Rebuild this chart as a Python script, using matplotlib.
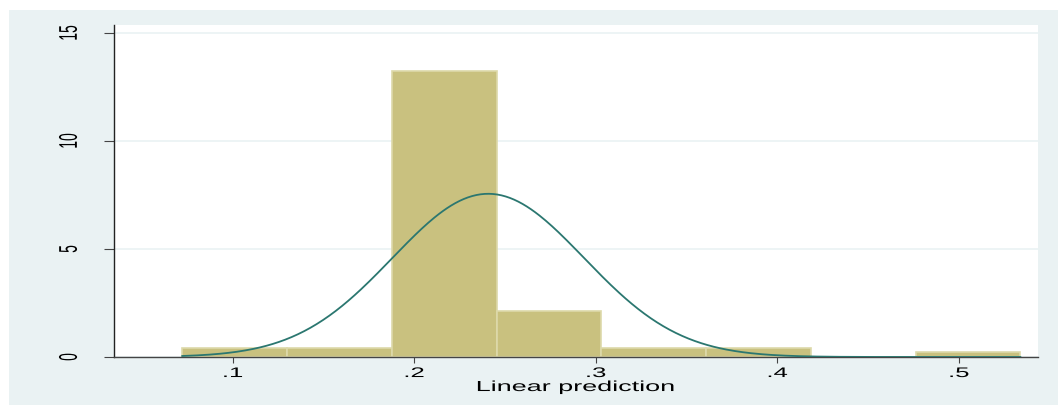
import numpy as np
import matplotlib
matplotlib.use('Agg')
import matplotlib.pyplot as plt
from matplotlib.patches import Rectangle
from matplotlib.patheffects import AbstractPathEffect
from matplotlib.transforms import Affine2D

# histogram data (density scale)
bin_edges = [0.0722, 0.1299, 0.1876, 0.2453, 0.3030, 0.3607, 0.4184, 0.4761, 0.5338]
densities = [0.42, 0.42, 13.25, 2.12, 0.42, 0.42, 0.0, 0.21]

# normal overlay parameters
fit_mean = 0.2407
fit_sd = 0.0528

x_ticks = [0.1, 0.2, 0.3, 0.4, 0.5]
x_labels = ['.1', '.2', '.3', '.4', '.5']
y_ticks = [0, 5, 10, 15]
x_title = 'Linear prediction'

bg = '#EAF2F3'
bar_color = '#C9C17F'
bar_edge = '#DDD9AA'
line_color = '#2B7770'

# the source image was stretched sideways, so the glyphs are wide
text_stretch = 1.85


class HStretch(AbstractPathEffect):
    '''widen the glyphs horizontally about their own centre'''

    def __init__(self, sx):
        super().__init__()
        self.sx = sx

    def draw_path(self, renderer, gc, tpath, affine, rgbFace=None):
        ext = tpath.get_extents(affine)
        cx = 0.5 * (ext.x0 + ext.x1)
        st = Affine2D().translate(-cx, 0).scale(self.sx, 1).translate(cx, 0)
        renderer.draw_path(gc, tpath, affine + st, rgbFace)


plt.rcParams['font.family'] = ['Liberation Sans', 'DejaVu Sans']

fig = plt.figure(figsize=(10.58, 4.06), dpi=100)
fig.patch.set_facecolor('white')
# outer graph region
fig.patches.append(Rectangle((9 / 1058, 0), 1 - 9 / 1058, 1 - 11 / 406,
                             transform=fig.transFigure, facecolor=bg,
                             edgecolor='none', zorder=-10))

ax = fig.add_axes([114 / 1058, 48 / 406, 924 / 1058, 332 / 406])
ax.set_facecolor('white')

widths = np.diff(bin_edges)
ax.bar(bin_edges[:-1], densities, width=widths, align='edge',
       color=bar_color, edgecolor=bar_edge, linewidth=1.2, zorder=2)

# normal density over the data range
xs = np.linspace(bin_edges[0], bin_edges[-1], 400)
ys = np.exp(-0.5 * ((xs - fit_mean) / fit_sd) ** 2) / (fit_sd * np.sqrt(2 * np.pi))
ax.plot(xs, ys, color=line_color, linewidth=1.3, zorder=3)

ax.set_xlim(0.0346, 0.5435)
ax.set_ylim(0, 15.37)
ax.set_xticks(x_ticks)
ax.set_xticklabels(x_labels)
ax.set_yticks(y_ticks)
ax.set_yticklabels([str(v) for v in y_ticks], rotation=90, va='center')

ax.yaxis.grid(True, color=bg, linewidth=1.2, zorder=1)
ax.set_axisbelow(True)

for s in ['top', 'right']:
    ax.spines[s].set_visible(False)
ax.spines['left'].set_color('#222222')
ax.spines['bottom'].set_color('#444444')
ax.spines['left'].set_linewidth(1.0)
ax.spines['bottom'].set_linewidth(1.0)

ax.tick_params(axis='y', length=7.5, width=0.8, color='#444444',
               labelsize=10, pad=20)
ax.tick_params(axis='x', length=4.5, width=0.8, color='#444444',
               labelsize=10, pad=2)
ax.set_xlabel(x_title, fontsize=10.5, labelpad=0)

for t in ax.get_xticklabels() + ax.get_yticklabels() + [ax.xaxis.label]:
    t.set_path_effects([HStretch(text_stretch)])

fig.savefig('out.png', dpi=100, facecolor=fig.get_facecolor())
